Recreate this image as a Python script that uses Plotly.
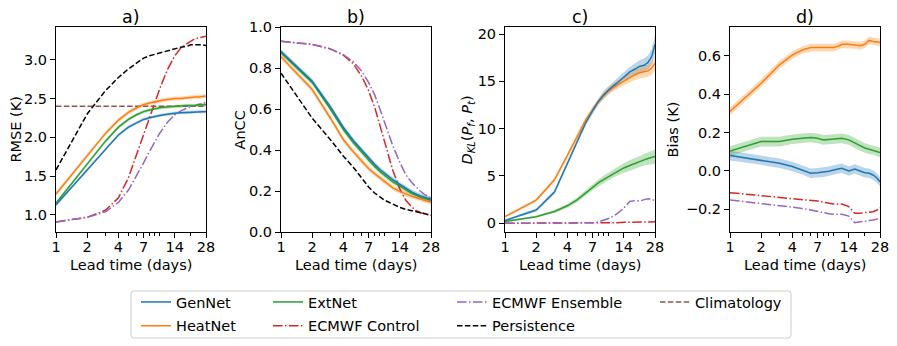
import plotly.graph_objects as go
from plotly.subplots import make_subplots

# =========================
# DATA
# =========================
days = [1, 2, 3, 4, 5, 6, 7, 8, 9, 10, 11, 12, 14, 16, 18, 20, 22, 24, 26, 28]
tick_days = [1, 2, 4, 7, 14, 28]
minor_days = [3, 5, 6, 8, 9, 10, 20]

# a) RMSE (K)
rmse_gen = [1.13, 1.58, 1.85, 2.03, 2.13, 2.19, 2.23, 2.25, 2.27, 2.28, 2.29, 2.30, 2.31, 2.315, 2.32, 2.32, 2.33, 2.33, 2.33, 2.33]
rmse_heat = [1.27, 1.76, 2.05, 2.22, 2.32, 2.38, 2.42, 2.44, 2.46, 2.47, 2.48, 2.49, 2.50, 2.50, 2.51, 2.51, 2.52, 2.52, 2.53, 2.53]
rmse_ext = [1.15, 1.66, 1.95, 2.13, 2.23, 2.29, 2.33, 2.35, 2.37, 2.38, 2.385, 2.39, 2.40, 2.40, 2.41, 2.41, 2.41, 2.42, 2.42, 2.42]
rmse_ctrl = [0.91, 0.97, 1.06, 1.22, 1.48, 1.78, 2.05, 2.28, 2.45, 2.62, 2.76, 2.88, 3.05, 3.15, 3.20, 3.24, 3.27, 3.28, 3.29, 3.30]
rmse_ens = [0.91, 0.97, 1.04, 1.16, 1.32, 1.50, 1.67, 1.82, 1.95, 2.05, 2.13, 2.20, 2.29, 2.34, 2.37, 2.39, 2.41, 2.43, 2.44, 2.45]
rmse_pers = [1.58, 2.30, 2.60, 2.77, 2.88, 2.96, 3.02, 3.05, 3.07, 3.09, 3.10, 3.12, 3.14, 3.16, 3.17, 3.19, 3.19, 3.19, 3.19, 3.18]
clim_days = [1, 28]
rmse_clim = [2.40, 2.40]

# b) AnCC
ancc_gen = [0.88, 0.735, 0.61, 0.51, 0.445, 0.40, 0.36, 0.33, 0.305, 0.285, 0.27, 0.255, 0.232, 0.212, 0.197, 0.185, 0.176, 0.17, 0.165, 0.16]
ancc_heat = [0.855, 0.695, 0.555, 0.45, 0.39, 0.345, 0.31, 0.285, 0.265, 0.245, 0.23, 0.215, 0.198, 0.185, 0.175, 0.168, 0.16, 0.155, 0.15, 0.145]
ancc_ext = [0.875, 0.73, 0.60, 0.50, 0.435, 0.39, 0.35, 0.32, 0.295, 0.275, 0.26, 0.245, 0.225, 0.205, 0.19, 0.18, 0.17, 0.165, 0.16, 0.155]
ancc_ctrl = [0.93, 0.915, 0.893, 0.862, 0.82, 0.76, 0.69, 0.61, 0.52, 0.44, 0.36, 0.30, 0.21, 0.155, 0.125, 0.105, 0.095, 0.09, 0.085, 0.08]
ancc_ens = [0.93, 0.915, 0.893, 0.865, 0.83, 0.785, 0.73, 0.67, 0.60, 0.535, 0.47, 0.42, 0.34, 0.28, 0.245, 0.22, 0.20, 0.185, 0.175, 0.165]
ancc_pers = [0.775, 0.555, 0.45, 0.37, 0.315, 0.265, 0.22, 0.19, 0.17, 0.155, 0.145, 0.135, 0.12, 0.11, 0.105, 0.10, 0.095, 0.09, 0.085, 0.082]

# c) D_KL
dkl_gen = [0.3, 1.4, 3.3, 6.3, 8.8, 10.6, 11.9, 12.9, 13.6, 14.1, 14.5, 14.8, 15.5, 16.0, 16.3, 16.6, 16.7, 17.0, 17.6, 18.9]
dkl_heat = [0.7, 2.45, 4.6, 7.1, 9.2, 10.9, 12.0, 12.9, 13.5, 14.0, 14.3, 14.6, 15.0, 15.4, 15.7, 15.9, 16.0, 16.1, 16.4, 16.9]
dkl_ext = [0.2, 0.7, 1.25, 1.85, 2.5, 3.2, 3.85, 4.3, 4.65, 4.95, 5.25, 5.5, 5.85, 6.1, 6.35, 6.55, 6.7, 6.85, 6.95, 7.05]
dkl_ctrl = [0.0, 0.0, 0.0, 0.01, 0.01, 0.02, 0.02, 0.03, 0.04, 0.05, 0.06, 0.07, 0.1, 0.11, 0.12, 0.13, 0.14, 0.14, 0.15, 0.15]
dkl_ens = [0.0, 0.0, 0.0, 0.0, 0.01, 0.02, 0.05, 0.15, 0.3, 0.5, 0.75, 1.0, 1.6, 2.3, 2.4, 2.35, 2.5, 2.6, 2.55, 2.35]
dkl_gen_sd = [0.1, 0.15, 0.2, 0.25, 0.3, 0.3, 0.35, 0.35, 0.4, 0.4, 0.4, 0.45, 0.5, 0.55, 0.6, 0.65, 0.7, 0.75, 0.85, 1.0]
dkl_heat_sd = [0.1, 0.15, 0.2, 0.25, 0.3, 0.3, 0.35, 0.35, 0.4, 0.4, 0.4, 0.45, 0.45, 0.5, 0.55, 0.6, 0.6, 0.65, 0.7, 0.75]
dkl_ext_sd = [0.1, 0.1, 0.15, 0.2, 0.25, 0.3, 0.35, 0.35, 0.4, 0.4, 0.45, 0.45, 0.5, 0.55, 0.55, 0.6, 0.6, 0.65, 0.7, 0.75]

# d) Bias (K)
bias_gen = [0.08, 0.057, 0.04, 0.023, 0.005, -0.012, -0.009, -0.007, -0.002, 0.005, 0.01, 0.014, 0.0, 0.01, 0.0, -0.009, -0.012, -0.021, -0.035, -0.056]
bias_heat = [0.31, 0.457, 0.553, 0.605, 0.63, 0.643, 0.643, 0.643, 0.643, 0.643, 0.65, 0.66, 0.66, 0.657, 0.652, 0.66, 0.68, 0.675, 0.672, 0.67]
bias_ext = [0.104, 0.153, 0.153, 0.165, 0.17, 0.174, 0.17, 0.162, 0.164, 0.165, 0.168, 0.17, 0.162, 0.144, 0.132, 0.12, 0.113, 0.11, 0.104, 0.096]
bias_ctrl = [-0.113, -0.129, -0.136, -0.143, -0.148, -0.152, -0.157, -0.163, -0.168, -0.172, -0.172, -0.172, -0.186, -0.22, -0.22, -0.217, -0.215, -0.212, -0.205, -0.191]
bias_ens = [-0.151, -0.169, -0.178, -0.186, -0.195, -0.203, -0.212, -0.22, -0.223, -0.226, -0.226, -0.226, -0.235, -0.27, -0.265, -0.26, -0.258, -0.256, -0.252, -0.247]

# band half widths (a, b, d constant per model)
band_a = {"GenNet": 0.02, "HeatNet": 0.025, "ExtNet": 0.02}
band_b = {"GenNet": 0.012, "HeatNet": 0.012, "ExtNet": 0.012}
band_d = {"GenNet": 0.025, "HeatNet": 0.02, "ExtNet": 0.025}

# =========================
# STYLE
# =========================
FONT = "DejaVu Sans"
FS = 14.5
C = {
    "GenNet": "#1f77b4", "HeatNet": "#ff7f0e", "ExtNet": "#2ca02c",
    "ECMWF Control": "#d62728", "ECMWF Ensemble": "#9467bd",
    "Persistence": "black", "Climatology": "#8c564b",
}
DASH = "5.5px,2.4px"
DASHDOT = "9.6px,2.4px,1.5px,2.4px"
STYLE = {
    "GenNet": "solid", "HeatNet": "solid", "ExtNet": "solid",
    "ECMWF Control": DASHDOT, "ECMWF Ensemble": DASHDOT,
    "Persistence": DASH, "Climatology": DASH,
}
LEGEND_OF = {
    "GenNet": "legend", "HeatNet": "legend",
    "ExtNet": "legend2", "ECMWF Control": "legend2",
    "ECMWF Ensemble": "legend3", "Persistence": "legend3",
    "Climatology": "legend4",
}
RANK = {"GenNet": 1, "HeatNet": 2, "ExtNet": 3, "ECMWF Control": 4,
        "ECMWF Ensemble": 5, "Persistence": 6, "Climatology": 7}

# page body has an 8px margin -> figure is 8px smaller, positions shifted by 8
OFF = 8
FW, FH = 897 - OFF, 346 - OFF


def xp(px):
    return (px - OFF) / FW


def yp(py):
    return 1 - (py - OFF) / FH


def rgba(hex_color, a):
    h = hex_color.lstrip("#")
    return "rgba(%d,%d,%d,%.2f)" % (int(h[0:2], 16), int(h[2:4], 16), int(h[4:6], 16), a)


fig = make_subplots(rows=1, cols=4)

panels = [
    {"GenNet": rmse_gen, "HeatNet": rmse_heat, "ExtNet": rmse_ext,
     "ECMWF Control": rmse_ctrl, "ECMWF Ensemble": rmse_ens, "Persistence": rmse_pers},
    {"GenNet": ancc_gen, "HeatNet": ancc_heat, "ExtNet": ancc_ext,
     "ECMWF Control": ancc_ctrl, "ECMWF Ensemble": ancc_ens, "Persistence": ancc_pers},
    {"GenNet": dkl_gen, "HeatNet": dkl_heat, "ExtNet": dkl_ext,
     "ECMWF Control": dkl_ctrl, "ECMWF Ensemble": dkl_ens},
    {"GenNet": bias_gen, "HeatNet": bias_heat, "ExtNet": bias_ext,
     "ECMWF Control": bias_ctrl, "ECMWF Ensemble": bias_ens},
]
bands = [band_a, band_b,
         {"GenNet": dkl_gen_sd, "HeatNet": dkl_heat_sd, "ExtNet": dkl_ext_sd},
         band_d]

for p, series in enumerate(panels):
    col = p + 1
    # shaded bands first
    for name in ["GenNet", "HeatNet", "ExtNet"]:
        y = series[name]
        w = bands[p][name]
        ws = w if isinstance(w, list) else [w] * len(y)
        upper = [v + s for v, s in zip(y, ws)]
        lower = [v - s for v, s in zip(y, ws)]
        fig.add_trace(go.Scatter(
            x=days + days[::-1], y=upper + lower[::-1],
            fill="toself", fillcolor=rgba(C[name], 0.3),
            line=dict(width=0), mode="lines",
            showlegend=False, hoverinfo="skip"),
            row=1, col=col)
    if p == 0:
        fig.add_trace(go.Scatter(
            x=clim_days, y=rmse_clim, mode="lines", name="Climatology",
            line=dict(color=C["Climatology"], width=1.5, dash=STYLE["Climatology"]),
            legend=LEGEND_OF["Climatology"], legendrank=RANK["Climatology"],
            legendgroup="Climatology", showlegend=True),
            row=1, col=col)
    for name in ["ECMWF Control", "ECMWF Ensemble", "Persistence", "ExtNet", "HeatNet", "GenNet"]:
        if name not in series:
            continue
        fig.add_trace(go.Scatter(
            x=days, y=series[name], mode="lines", name=name,
            line=dict(color=C[name], width=1.5, dash=STYLE[name]),
            legend=LEGEND_OF[name], legendrank=RANK[name], legendgroup=name,
            showlegend=(p == 0)),
            row=1, col=col)

# =========================
# AXES
# =========================
x_doms = [(56, 206), (281, 431), (505, 655), (730, 880)]
y_top, y_bot = 27, 232
y_dom = [yp(y_bot), yp(y_top)]
y_ranges = [[0.78, 3.42], [0.0, 1.0], [-0.92, 20.74], [-0.318, 0.75]]
y_ticks = [[1.0, 1.5, 2.0, 2.5, 3.0], [0.0, 0.2, 0.4, 0.6, 0.8, 1.0],
           [0, 5, 10, 15, 20], [-0.2, 0.0, 0.2, 0.4, 0.6]]
y_text = [["1.0", "1.5", "2.0", "2.5", "3.0"], ["0.0", "0.2", "0.4", "0.6", "0.8", "1.0"],
          ["0", "5", "10", "15", "20"], ["\u22120.2", "0.0", "0.2", "0.4", "0.6"]]
y_titles = ["RMSE (K)", "AnCC",
            "<i>D</i><sub><i>KL</i></sub>(<i>P</i><sub><i>f</i></sub>, <i>P</i><sub><i>t</i></sub>)",
            "Bias (K)"]
y_title_x = [15, 239, 467, 672]
titles = ["a)", "b)", "c)", "d)"]

axis_common = dict(showline=True, mirror=True, linecolor="black", linewidth=1,
                   ticks="outside", ticklen=5, tickcolor="black", showgrid=False,
                   zeroline=False, automargin=False,
                   tickfont=dict(family=FONT, size=FS, color="black"))

for p in range(4):
    col = p + 1
    x0, x1 = x_doms[p]
    fig.update_xaxes(
        type="log", range=[0, 1.4472], domain=[xp(x0), xp(x1)],
        tickmode="array", tickvals=tick_days, ticktext=[str(d) for d in tick_days],
        minor=dict(tickmode="array", tickvals=minor_days, ticks="outside",
                   ticklen=2.5, tickcolor="black", showgrid=False),
        ticklabelstandoff=-3,
        **axis_common, row=1, col=col)
    fig.update_yaxes(
        range=y_ranges[p], domain=y_dom,
        tickmode="array", tickvals=y_ticks[p], ticktext=y_text[p],
        ticklabelstandoff=0,
        **axis_common, row=1, col=col)
    # panel title
    fig.add_annotation(
        text=titles[p], x=xp((x0 + x1) / 2), y=yp(17), xref="paper", yref="paper",
        xanchor="center", yanchor="middle", showarrow=False,
        font=dict(family=FONT, size=17.5, color="black"))
    # x axis title
    fig.add_annotation(
        text="Lead time (days)", x=xp((x0 + x1) / 2), y=yp(265),
        xref="paper", yref="paper", xanchor="center", yanchor="middle",
        showarrow=False, font=dict(family=FONT, size=FS, color="black"))
    # y axis title
    fig.add_annotation(
        text=y_titles[p], x=xp(y_title_x[p]), y=yp((y_top + y_bot) / 2),
        xref="paper", yref="paper", xanchor="center", yanchor="middle",
        textangle=-90, showarrow=False, font=dict(family=FONT, size=FS, color="black"))

# =========================
# LEGEND (four columns + frame)
# =========================
leg_common = dict(bgcolor="rgba(0,0,0,0)", borderwidth=0, orientation="v",
                  font=dict(family=FONT, size=FS, color="black"),
                  xanchor="left", yanchor="top", tracegroupgap=2, itemwidth=30)
leg_y = yp(286)
fig.update_layout(
    legend=dict(x=xp(136), y=leg_y, **leg_common),
    legend2=dict(x=xp(268), y=leg_y, **leg_common),
    legend3=dict(x=xp(452), y=leg_y, **leg_common),
    legend4=dict(x=xp(655), y=leg_y, **leg_common),
)

lx0, lx1 = xp(131), xp(791)
ly0, ly1 = yp(338), yp(291)
rx, ry = 3 / FW, 3 / FH
path = (f"M {lx0 + rx},{ly1} L {lx1 - rx},{ly1} Q {lx1},{ly1} {lx1},{ly1 - ry} "
        f"L {lx1},{ly0 + ry} Q {lx1},{ly0} {lx1 - rx},{ly0} "
        f"L {lx0 + rx},{ly0} Q {lx0},{ly0} {lx0},{ly0 + ry} "
        f"L {lx0},{ly1 - ry} Q {lx0},{ly1} {lx0 + rx},{ly1} Z")
fig.add_shape(type="path", path=path, xref="paper", yref="paper",
              line=dict(color="#cccccc", width=1))

fig.update_layout(
    width=FW, height=FH,
    margin=dict(l=0, r=0, t=0, b=0, pad=0),
    plot_bgcolor="white", paper_bgcolor="white",
    font=dict(family=FONT, size=FS, color="black"),
)

fig.write_html("out.html")
